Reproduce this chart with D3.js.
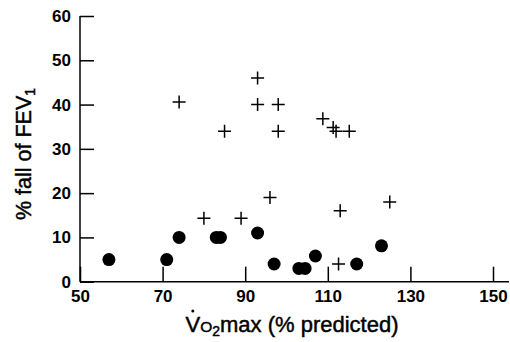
<!DOCTYPE html>
<html>
<head>
<meta charset="utf-8">
<script src="https://cdn.jsdelivr.net/npm/d3@7"></script>
<style>
  body { margin: 0; background: #fff; }
  svg { display: block; font-family: "Liberation Sans", Arial, sans-serif; }
</style>
</head>
<body>
<div id="chart"></div>
<script>
// filled circles
var circleX = [57, 71, 74, 83, 84, 93, 97, 103, 104.5, 107, 117, 123];
var circleY = [5, 5, 10, 10, 10, 11, 4, 3, 3, 5.8, 4, 8.1];
// crosses
var crossX = [74, 80, 85, 89, 93, 93, 98, 98, 96, 108.8, 111.3, 112, 115.2, 113, 125, 112.6];
var crossY = [40.6, 14.3, 34, 14.3, 46, 40, 40, 34, 19, 36.8, 34.8, 34, 34, 16, 18, 4];

var xTicks = [50, 70, 90, 110, 130, 150];
var yTicks = [0, 10, 20, 30, 40, 50, 60];

const w = 510;
const h = 342;

const xScale = d3.scaleLinear().domain([50, 150]).range([80, 493]);
const yScale = d3.scaleLinear().domain([0, 60]).range([281.7, 16]);

const svg = d3.select("#chart").append("svg")
    .attr("width", w)
    .attr("height", h);

// axes
const xAxis = d3.axisBottom(xScale).tickValues(xTicks).tickSize(-15).tickPadding(8).tickFormat(d3.format("d"));
const yAxis = d3.axisLeft(yScale).tickValues(yTicks).tickSize(-14).tickPadding(9);

const gx = svg.append("g")
    .attr("transform", "translate(0," + yScale(0) + ")")
    .call(xAxis);
gx.select(".domain").remove();
gx.append("line")
    .attr("x1", xScale(50)).attr("x2", 509)
    .attr("stroke", "#000").attr("stroke-width", 1.5);

const gy = svg.append("g")
    .attr("transform", "translate(" + xScale(50) + ",0)")
    .call(yAxis);
gy.select(".domain").remove();
gy.append("line")
    .attr("y1", yScale(0)).attr("y2", yScale(60))
    .attr("stroke", "#000").attr("stroke-width", 1.5);

svg.selectAll(".tick line").attr("stroke", "#000").attr("stroke-width", 1.5);
svg.selectAll(".tick text")
    .attr("fill", "#000")
    .style("font-size", "17px")
    .style("font-weight", "bold")
    .style("font-family", "'Liberation Sans', Arial, sans-serif");

// points
svg.selectAll("circle.dot")
    .data(circleX.map((x, i) => [x, circleY[i]]))
    .enter()
    .append("circle")
    .attr("class", "dot")
    .attr("cx", (d) => xScale(d[0]))
    .attr("cy", (d) => yScale(d[1]))
    .attr("r", 6.5)
    .attr("fill", "#000");

const cs = 6.5;
svg.selectAll("path.cross")
    .data(crossX.map((x, i) => [x, crossY[i]]))
    .enter()
    .append("path")
    .attr("class", "cross")
    .attr("d", (d) => {
        var cx = xScale(d[0]), cy = yScale(d[1]);
        return "M" + (cx - cs) + "," + cy + "H" + (cx + cs) + "M" + cx + "," + (cy - cs) + "V" + (cy + cs);
    })
    .attr("stroke", "#000")
    .attr("stroke-width", 1.5)
    .attr("fill", "none");

// axis titles (medium weight: regular plus a thin stroke)
const xt = svg.append("text")
    .attr("x", 292)
    .attr("y", 332)
    .attr("text-anchor", "middle")
    .attr("stroke", "#000")
    .attr("stroke-width", 0.45)
    .style("font-size", "22px");
const vSpan = xt.append("tspan").text("V");
xt.append("tspan").style("font-size", "15.5px").text("O");
xt.append("tspan").style("font-size", "14px").attr("dy", 4).text("2");
xt.append("tspan").attr("dy", -4).text("max (% predicted)");

// dot over the V
var vStart = xt.node().getStartPositionOfChar(0).x;
var vEnd = xt.node().getEndPositionOfChar(0).x;
svg.append("circle")
    .attr("cx", (vStart + vEnd) / 2)
    .attr("cy", 311)
    .attr("r", 1.5)
    .attr("fill", "#000");

const yt = svg.append("text")
    .attr("transform", "translate(31,154) rotate(-90)")
    .attr("text-anchor", "middle")
    .attr("stroke", "#000")
    .attr("stroke-width", 0.45)
    .style("font-size", "21.5px");
yt.append("tspan").text("% fall of FEV");
yt.append("tspan").style("font-size", "14px").attr("dy", 4).text("1");
</script>
</body>
</html>
